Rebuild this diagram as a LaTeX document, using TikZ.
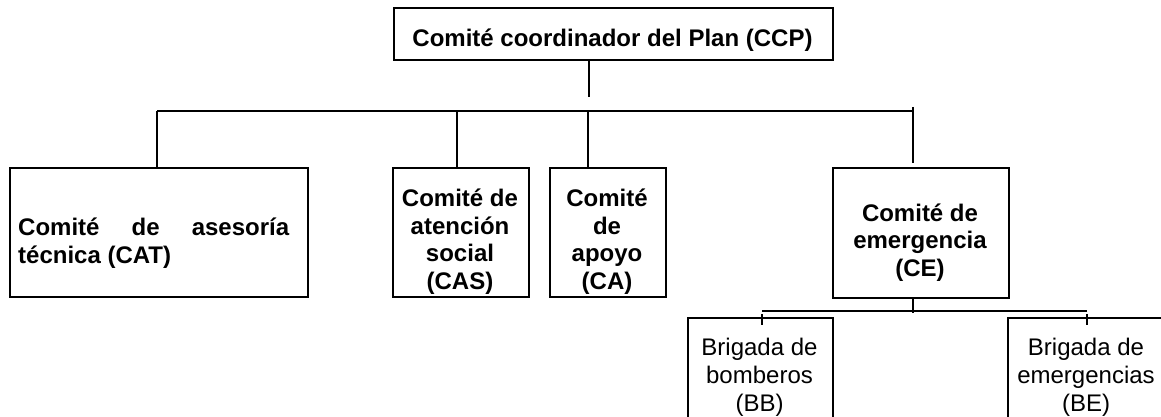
\documentclass[tikz,border=0pt]{standalone}
\usepackage{fontspec}
\setmainfont{Liberation Sans}
\begin{document}
\begin{tikzpicture}[x=1pt,y=-1pt,
  box/.style={draw=black, line width=2pt, rectangle, inner sep=0pt, anchor=north west},
  conn/.style={draw=black, line width=1.5pt},
  bt/.style={inner sep=0pt, font=\fontsize{24}{27.5}\selectfont\bfseries, align=center, anchor=base},
  rt/.style={inner sep=0pt, font=\fontsize{24}{28}\selectfont, align=center, anchor=base}]
\clip (0,0) rectangle (1161,417);
\fill[white] (0,0) rectangle (1161,417);
% boxes
\node[box, minimum width=439pt, minimum height=52pt] (ccp) at (393,7) {};
\node[box, minimum width=298pt, minimum height=129pt] (cat) at (9,167) {};
\node[box, minimum width=136pt, minimum height=129pt] (cas) at (392,167) {};
\node[box, minimum width=116pt, minimum height=129pt] (ca) at (549,167) {};
\node[box, minimum width=176pt, minimum height=130pt] (ce) at (832,167) {};
\node[box, minimum width=145pt, minimum height=120pt] (bb) at (687,317) {};
\node[box, minimum width=159pt, minimum height=120pt] (be) at (1007,317) {};
% texts (anchor base = baseline of the last line)
\node[bt] (ccpt) at (612.5,47) {Comité coordinador del Plan (CCP)};
\node[bt, align=left, anchor=base west] (catt) at (18,263) {\makebox[271pt][s]{Comité de asesoría}\\técnica (CAT)};
\node[bt] (cast) at (460,289) {Comité de\\atención\\social\\(CAS)};
\node[bt] (cat2) at (607,289) {Comité\\de\\apoyo\\(CA)};
\node[bt] (cet) at (920,276) {Comité de\\emergencia\\(CE)};
\node[rt] (bbt) at (759.5,411) {Brigada de\\bomberos\\(BB)};
\node[rt] (bet) at (1086,411) {Brigada de\\emergencias\\(BE)};
% connectors level 1
\coordinate (stem) at (589,97);
\coordinate (busL) at (157,111);
\coordinate (busR) at (913,111);
\coordinate (tickT) at (913,107);
\coordinate (tickB) at (913,163);
\draw[conn] (ccp.south -| stem) -- (stem);
\draw[conn] (busL) -- (busR);
\draw[conn] (tickT) -- (tickB);
\draw[conn] (busL) -- (busL |- cat.north);
\draw[conn] (457,111) coordinate (busC) -- (busC |- cas.north);
\draw[conn] (588,111) coordinate (busA) -- (busA |- ca.north);
% connectors level 2
\coordinate (ceS) at (913,313);
\coordinate (bus2L) at (762,311);
\coordinate (bus2R) at (1087,311);
\draw[conn] (ce.south -| ceS) -- (ceS);
\draw[conn] (bus2L) -- (bus2R);
\draw[conn] ([yshift=-3pt]bus2L) -- (bus2L |- 0,325) coordinate (bbtick);
\draw[conn] ([yshift=-3pt]bus2R) -- (bus2R |- 0,325) coordinate (betick);
\end{tikzpicture}
\end{document}
